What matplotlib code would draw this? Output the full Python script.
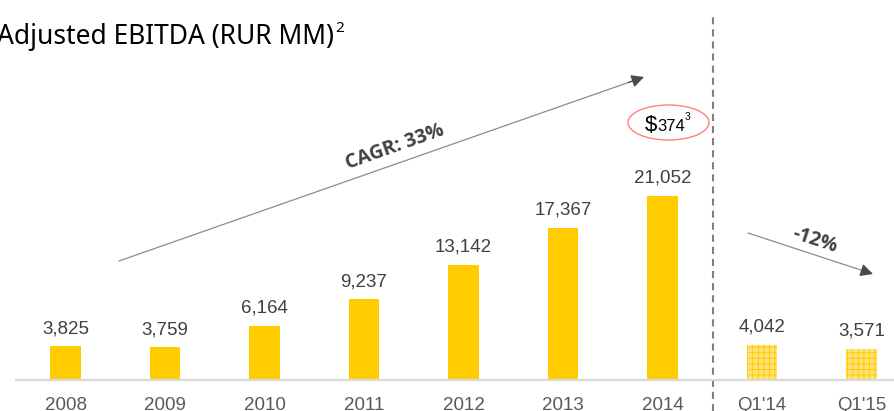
import matplotlib.pyplot as plt
from matplotlib.patches import Ellipse

# データ
categories = ["2008", "2009", "2010", "2011", "2012", "2013", "2014", "Q1'14", "Q1'15"]
ebitda = [3825, 3759, 6164, 9237, 13142, 17367, 21052, 4042, 3571]
is_quarter = [False] * 7 + [True] * 2
cagr_label = "CAGR: 33%"
q_change_label = "-12%"
usd_value = "374"

W, H = 894, 411
X0, DX = 65.5, 99.5          # px: 1本目の中心, 間隔
BASE, UNIT = 380, 0.00876    # px: 基準線, 1単位あたりpx

plt.rcParams["hatch.linewidth"] = 0.7


def px2x(px):
    return (px - X0) / DX


def px2y(py):
    return (BASE - py) / UNIT


fig = plt.figure(figsize=(W / 100, H / 100), dpi=100)
ax = fig.add_axes([0, 0, 1, 1])
ax.set_xlim(px2x(0), px2x(W))
ax.set_ylim(px2y(H), px2y(0))
ax.axis("off")

idx = list(range(len(categories)))
for i, v, q in zip(idx, ebitda, is_quarter):
    if q:
        ax.bar(i, v, width=0.31, color="#FFE27A", edgecolor="#FFCC00",
               hatch="+++", linewidth=0, zorder=2)
    else:
        ax.bar(i, v, width=0.31, color="#FFCC00", linewidth=0, zorder=2)
    ax.annotate(f"{v:,}", (i, v), xytext=(0, 9.4), textcoords="offset points",
                ha="center", va="baseline", fontsize=13.5,
                family="Liberation Sans", color="#404040")
    ax.text(i, px2y(405), categories[i], ha="center", va="center",
            fontsize=13.5, family="Liberation Sans", color="#595959")

# 基準線
ax.plot([px2x(16), px2x(W)], [0, 0], color="#D9D9D9", lw=1.6, zorder=3)

# 区切り線
ax.axvline(px2x(712.7), ymin=0, ymax=(H - 15) / H, color="#808080",
           lw=1.5, ls=(0, (3.4, 2.4)))

# 矢印
def arrow(p0, p1):
    ax.annotate("", xy=(px2x(p1[0]), px2y(p1[1])), xytext=(px2x(p0[0]), px2y(p0[1])),
                arrowprops=dict(arrowstyle="-", color="#8C8C8C", lw=0.9,
                                shrinkA=0, shrinkB=4))
    ax.annotate("", xy=(px2x(p1[0]), px2y(p1[1])),
                xytext=(px2x(p1[0] - (p1[0] - p0[0]) * 0.03), px2y(p1[1] - (p1[1] - p0[1]) * 0.03)),
                arrowprops=dict(arrowstyle="-|>,head_length=0.75,head_width=0.38",
                                color="#414B56", lw=0.9, shrinkA=0, shrinkB=0))


arrow((119, 261), (644, 77))
arrow((748, 233), (873, 274))

ax.text(px2x(395), px2y(147), cagr_label, rotation=19.5, ha="center", va="center",
        fontsize=14, fontweight="bold", family="Open Sans", color="#404040",
        rotation_mode="anchor")
ax.text(px2x(815), px2y(240), q_change_label, rotation=-18, ha="center", va="center",
        fontsize=14, fontweight="bold", family="Open Sans", color="#404040",
        rotation_mode="anchor")

# $374 の楕円
ax.add_patch(Ellipse((px2x(668.5), px2y(122.5)), 81 / DX, 35 / UNIT,
                     facecolor="none", edgecolor="#FF8080", lw=1))
ax.text(px2x(645), px2y(131), r"\$", fontsize=16, family="Liberation Sans",
        color="#000000", ha="left", va="baseline")
ax.text(px2x(657), px2y(131), usd_value, fontsize=12, family="Liberation Sans",
        color="#000000", ha="left", va="baseline")
ax.text(px2x(685), px2y(120), "3", fontsize=7.5, family="Liberation Sans",
        color="#000000", ha="left", va="baseline")

# タイトル
fig.text(-3 / W, 1 - 44 / H, "Adjusted EBITDA (RUR MM)", fontsize=19,
         family="Noto Sans", color="#000000", ha="left", va="baseline")
fig.text(335 / W, 1 - 32 / H, "2", fontsize=11, family="Noto Sans",
         color="#000000", ha="left", va="baseline")

fig.savefig("out.png", dpi=100)
